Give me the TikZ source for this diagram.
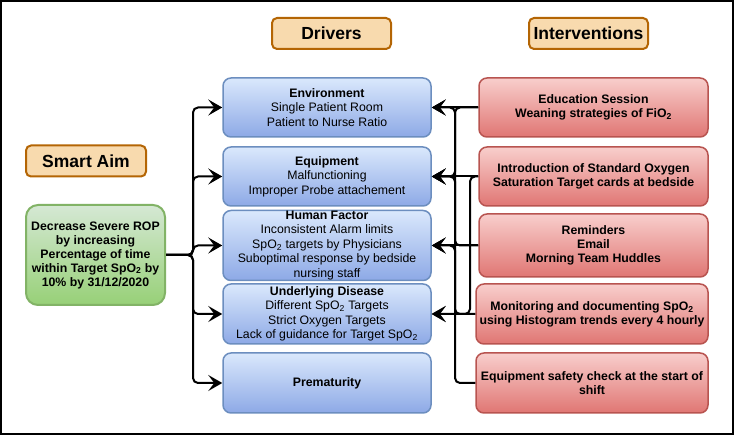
\documentclass[tikz,border=0pt]{standalone}
\usepackage{fontspec}
\setmainfont{Liberation Sans}
\usetikzlibrary{arrows.meta}

\definecolor{tanfill}{HTML}{F8DAAE}
\definecolor{tanline}{HTML}{B46504}
\definecolor{grnfill}{HTML}{D5E8D4}
\definecolor{grnbot}{HTML}{97D077}
\definecolor{grnline}{HTML}{82B366}
\definecolor{blufill}{HTML}{DAE8FC}
\definecolor{blubot}{HTML}{8DA9E6}
\definecolor{bluline}{HTML}{6C8EBF}
\definecolor{redfill}{HTML}{F8CECC}
\definecolor{redbot}{HTML}{E07673}
\definecolor{redline}{HTML}{B85450}

\tikzset{
  titlebox/.style={draw=tanline, line width=2pt, fill=tanfill, rounded corners=5pt,
    minimum width=119pt, minimum height=31pt, font=\fontsize{17.5}{20}\selectfont\bfseries},
  aimbox/.style={draw=grnline, line width=2pt, top color=grnfill, bottom color=grnbot,
    rounded corners=12pt, align=center, inner sep=2pt, font=\fontsize{12.3}{14}\selectfont\bfseries},
  driverbox/.style={draw=bluline, line width=1.5pt, top color=blufill, bottom color=blubot,
    rounded corners=8pt, minimum width=208pt, align=center, inner sep=0pt,
    font=\fontsize{12.3}{14.5}\selectfont},
  actbox/.style={draw=redline, line width=1.5pt, top color=redfill, bottom color=redbot,
    rounded corners=8pt, align=center, inner sep=0pt, font=\fontsize{12.3}{14}\selectfont\bfseries},
  link/.style={line width=2pt, -{Stealth[length=14pt,width=16pt,inset=6pt]}},
}

\begin{document}
\begin{tikzpicture}[x=1pt, y=-1pt]
	\useasboundingbox (0,0) rectangle (734,435);
	\draw[line width=2pt] (1,1) rectangle (733,434);

	% Titles
	\node[titlebox] (drv) at (331.5,33.5) {Drivers};
	\node[titlebox] (itv) at (588.5,33.5) {Interventions};
	\node[titlebox, minimum width=120pt] (smt) at (86,161) {Smart Aim};

	% Smart aim
	\node[aimbox, minimum width=139pt, minimum height=100pt] (aim) at (95.5,255)
		{Decrease Severe ROP\\by increasing\\Percentage of time\\within Target SpO\textsubscript{2} by\\10\% by 31/12/2020};

	% Drivers
	\node[driverbox, minimum height=59pt] (env) at (327,107.5)
		{\textbf{Environment}\\Single Patient Room\\Patient to Nurse Ratio};
	\node[driverbox, minimum height=59pt] (equ) at (327,176.5)
		{\textbf{Equipment}\\Malfunctioning\\Improper Probe attachement};
	\node[driverbox, minimum height=70pt] (hum) at (327,245.5)
		{\textbf{Human Factor}\\Inconsistent Alarm limits\\SpO\textsubscript{2} targets by Physicians\\Suboptimal response by bedside\\nursing staff};
	\node[driverbox, minimum height=60pt] (und) at (327,314)
		{\textbf{Underlying Disease}\\Different SpO\textsubscript{2} Targets\\Strict Oxygen Targets\\Lack of guidance for Target SpO\textsubscript{2}};
	\node[driverbox, minimum height=60pt] (pre) at (327,383) {\textbf{Prematurity}};

	% Interventions
	\node[actbox, minimum width=229pt, minimum height=59pt] (in1) at (593.5,107.5)
		{Education Session\\Weaning strategies of FiO\textsubscript{2}};
	\node[actbox, minimum width=229pt, minimum height=59pt] (in2) at (593.5,176.5)
		{Introduction of Standard Oxygen\\Saturation Target cards at bedside};
	\node[actbox, minimum width=229pt, minimum height=63pt] (in3) at (593.5,245.5)
		{Reminders\\Email\\Morning Team Huddles};
	\node[actbox, minimum width=232pt, minimum height=60pt] (in4) at (592,314)
		{Monitoring and documenting SpO\textsubscript{2}\\using Histogram trends every 4 hourly};
	\node[actbox, minimum width=232pt, minimum height=60pt] (in5) at (592,383)
		{Equipment safety check at the start of\\shift};

	% Aim to drivers
	\coordinate (lbus) at (193,255);
	\foreach \d in {env,equ,hum,und,pre}
		\draw[link, rounded corners=5pt] (aim.east) -- (lbus) |- (\d.west);

	% Interventions to drivers
	\coordinate (rb) at (455,0);
	\coordinate (rc) at (470,0);
	\draw[link] (in1.west) -- (env.east);
	\draw[link] (in2.west) -- (equ.east);
	\draw[link] (in3.west) -- (hum.east);
	\draw[link] (in4.west) -- (und.east);
	\draw[link, rounded corners=5pt] (in5.west) -- (in5.west -| rb) |- (env.east);
	\draw[link, rounded corners=5pt] (in1.west) -- (in1.west -| rb) |- (equ.east);
	\draw[link, rounded corners=5pt] (in3.west) -- (in3.west -| rb) |- (equ.east);
	\draw[link, rounded corners=5pt] (in4.west) -- (in4.west -| rb) |- (hum.east);
	\draw[link, rounded corners=5pt] (in2.west) -- (in2.west -| rc) |- (und.east);
\end{tikzpicture}
\end{document}
